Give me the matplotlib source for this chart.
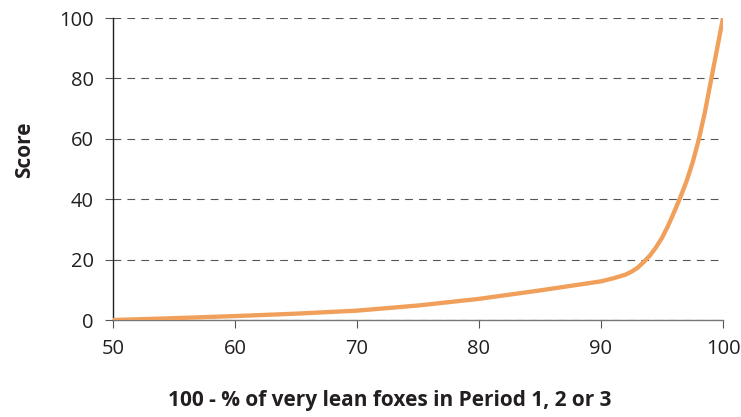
import matplotlib
matplotlib.use("Agg")
import matplotlib.pyplot as plt

# curve
lean_x = [50, 55, 60, 65, 70, 75, 80, 85, 88, 90, 91, 92, 92.5, 93, 93.5,
          94, 94.5, 95, 95.5, 96, 96.5, 97, 97.5, 98, 98.5, 99, 99.5, 100]
score_y = [0, 0.6, 1.3, 2.1, 3.1, 4.8, 7.0, 9.8, 11.6, 12.8, 13.8, 15.0, 16.0, 17.3, 19.2,
           21.3, 24.0, 27.2, 31.2, 35.8, 40.6, 45.8, 52.0, 59.5, 68.5, 79.0, 89.5, 100]

x_ticks = [50, 60, 70, 80, 90, 100]
y_ticks = [0, 20, 40, 60, 80, 100]

plt.rcParams['font.family'] = ['Open Sans', 'DejaVu Sans']

fig = plt.figure(figsize=(7.41, 4.17), dpi=100)
ax = fig.add_axes([0.1525, 0.2326, 0.8232, 0.7242])

ax.plot(lean_x, score_y, color='#F0A05A', linewidth=3.1, solid_capstyle='round', zorder=3)

ax.set_xlim(50, 100)
ax.set_ylim(0, 100)
ax.set_xticks(x_ticks)
ax.set_yticks(y_ticks)
ax.tick_params(axis='both', direction='out', length=5.8, width=0.8, colors='#555555',
               labelsize=14.5, labelcolor='#231F20')
ax.tick_params(axis='y', pad=8)
ax.tick_params(axis='x', pad=8)

# dashed gridlines
ax.yaxis.grid(True, color='#555555', linewidth=0.8, linestyle=(0, (7, 5.5)))
ax.set_axisbelow(True)

for side in ['top', 'right']:
    ax.spines[side].set_visible(False)
ax.spines['left'].set_color('#231F20')
ax.spines['left'].set_linewidth(1.0)
ax.spines['bottom'].set_color('#777777')
ax.spines['bottom'].set_linewidth(1.0)

ax.set_xlabel('100 - % of very lean foxes in Period 1, 2 or 3', fontsize=15,
              fontweight='bold', color='#231F20')
ax.set_ylabel('Score', fontsize=15, fontweight='bold', color='#231F20')
ax.xaxis.set_label_coords(0.454, -0.232)
ax.yaxis.set_label_coords(-0.128, 0.563)

fig.savefig('out.png', dpi=100)
